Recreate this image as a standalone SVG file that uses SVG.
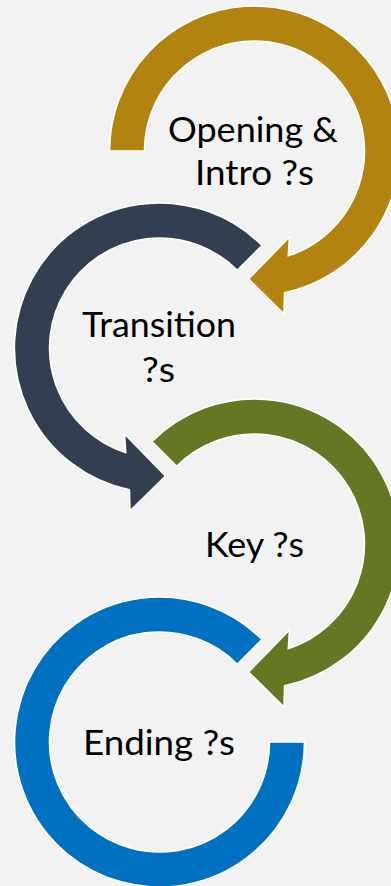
<svg xmlns="http://www.w3.org/2000/svg" width="391" height="886" viewBox="0 0 391 886">
  <style>
    .ring { stroke: #ffffff; stroke-width: 1.6; stroke-linejoin: miter; }
    .gold { fill: #B3830F; }
    .navy { fill: #333F50; }
    .olive { fill: #657722; }
    .blue { fill: #0070C0; }
    .label { font-family: "Lato", "Liberation Sans", sans-serif; font-size: 34px; fill: #000000; text-anchor: middle; }
  </style>
  <rect x="0" y="0" width="391" height="886" fill="#F2F2F2"/>

  <!-- Step 1: clockwise arc, centre (254.5,151) -->
  <g id="opening">
    <path class="ring gold" d="M109.5,151 A145,145 0 1 1 284.6,292.8 L284,314 L248.5,279 L289.5,237 L288.3,255.7 A110,110 0 1 0 144.5,151 Z"/>
    <text class="label" x="253" y="142" textLength="170" lengthAdjust="spacingAndGlyphs">Opening &amp;</text>
    <text class="label" x="254.5" y="185" textLength="119" lengthAdjust="spacingAndGlyphs">Intro ?s</text>
  </g>

  <!-- Step 2: counter-clockwise arc, centre (159.5,348) -->
  <g id="transition">
    <path class="ring navy" d="M262,245.5 A145,145 0 1 0 129.4,489.8 L130,511 L165.5,476 L124.5,434 L125.7,452.7 A110,110 0 1 1 237.3,270.2 Z"/>
    <text class="label" x="159" y="337" textLength="154" lengthAdjust="spacingAndGlyphs">Transition</text>
    <text class="label" x="158.5" y="382" textLength="33" lengthAdjust="spacingAndGlyphs">?s</text>
  </g>

  <!-- Step 3: clockwise arc, centre (254.5,544) -->
  <g id="key">
    <path class="ring olive" d="M152,441.5 A145,145 0 1 1 284.6,685.8 L284,707 L248.5,672 L289.5,630 L288.3,648.7 A110,110 0 1 0 176.7,466.2 Z"/>
    <text class="label" x="254.5" y="557" textLength="99" lengthAdjust="spacingAndGlyphs">Key ?s</text>
  </g>

  <!-- Step 4: open ring with square end, centre (159.5,742) -->
  <g id="ending">
    <path class="ring blue" d="M262,639.5 A145,145 0 1 0 304.5,742 L269.5,742 A110,110 0 1 1 237.3,664.2 Z"/>
    <text class="label" x="159" y="755" textLength="152" lengthAdjust="spacingAndGlyphs">Ending ?s</text>
  </g>

  <g id="connectors"></g>
</svg>
